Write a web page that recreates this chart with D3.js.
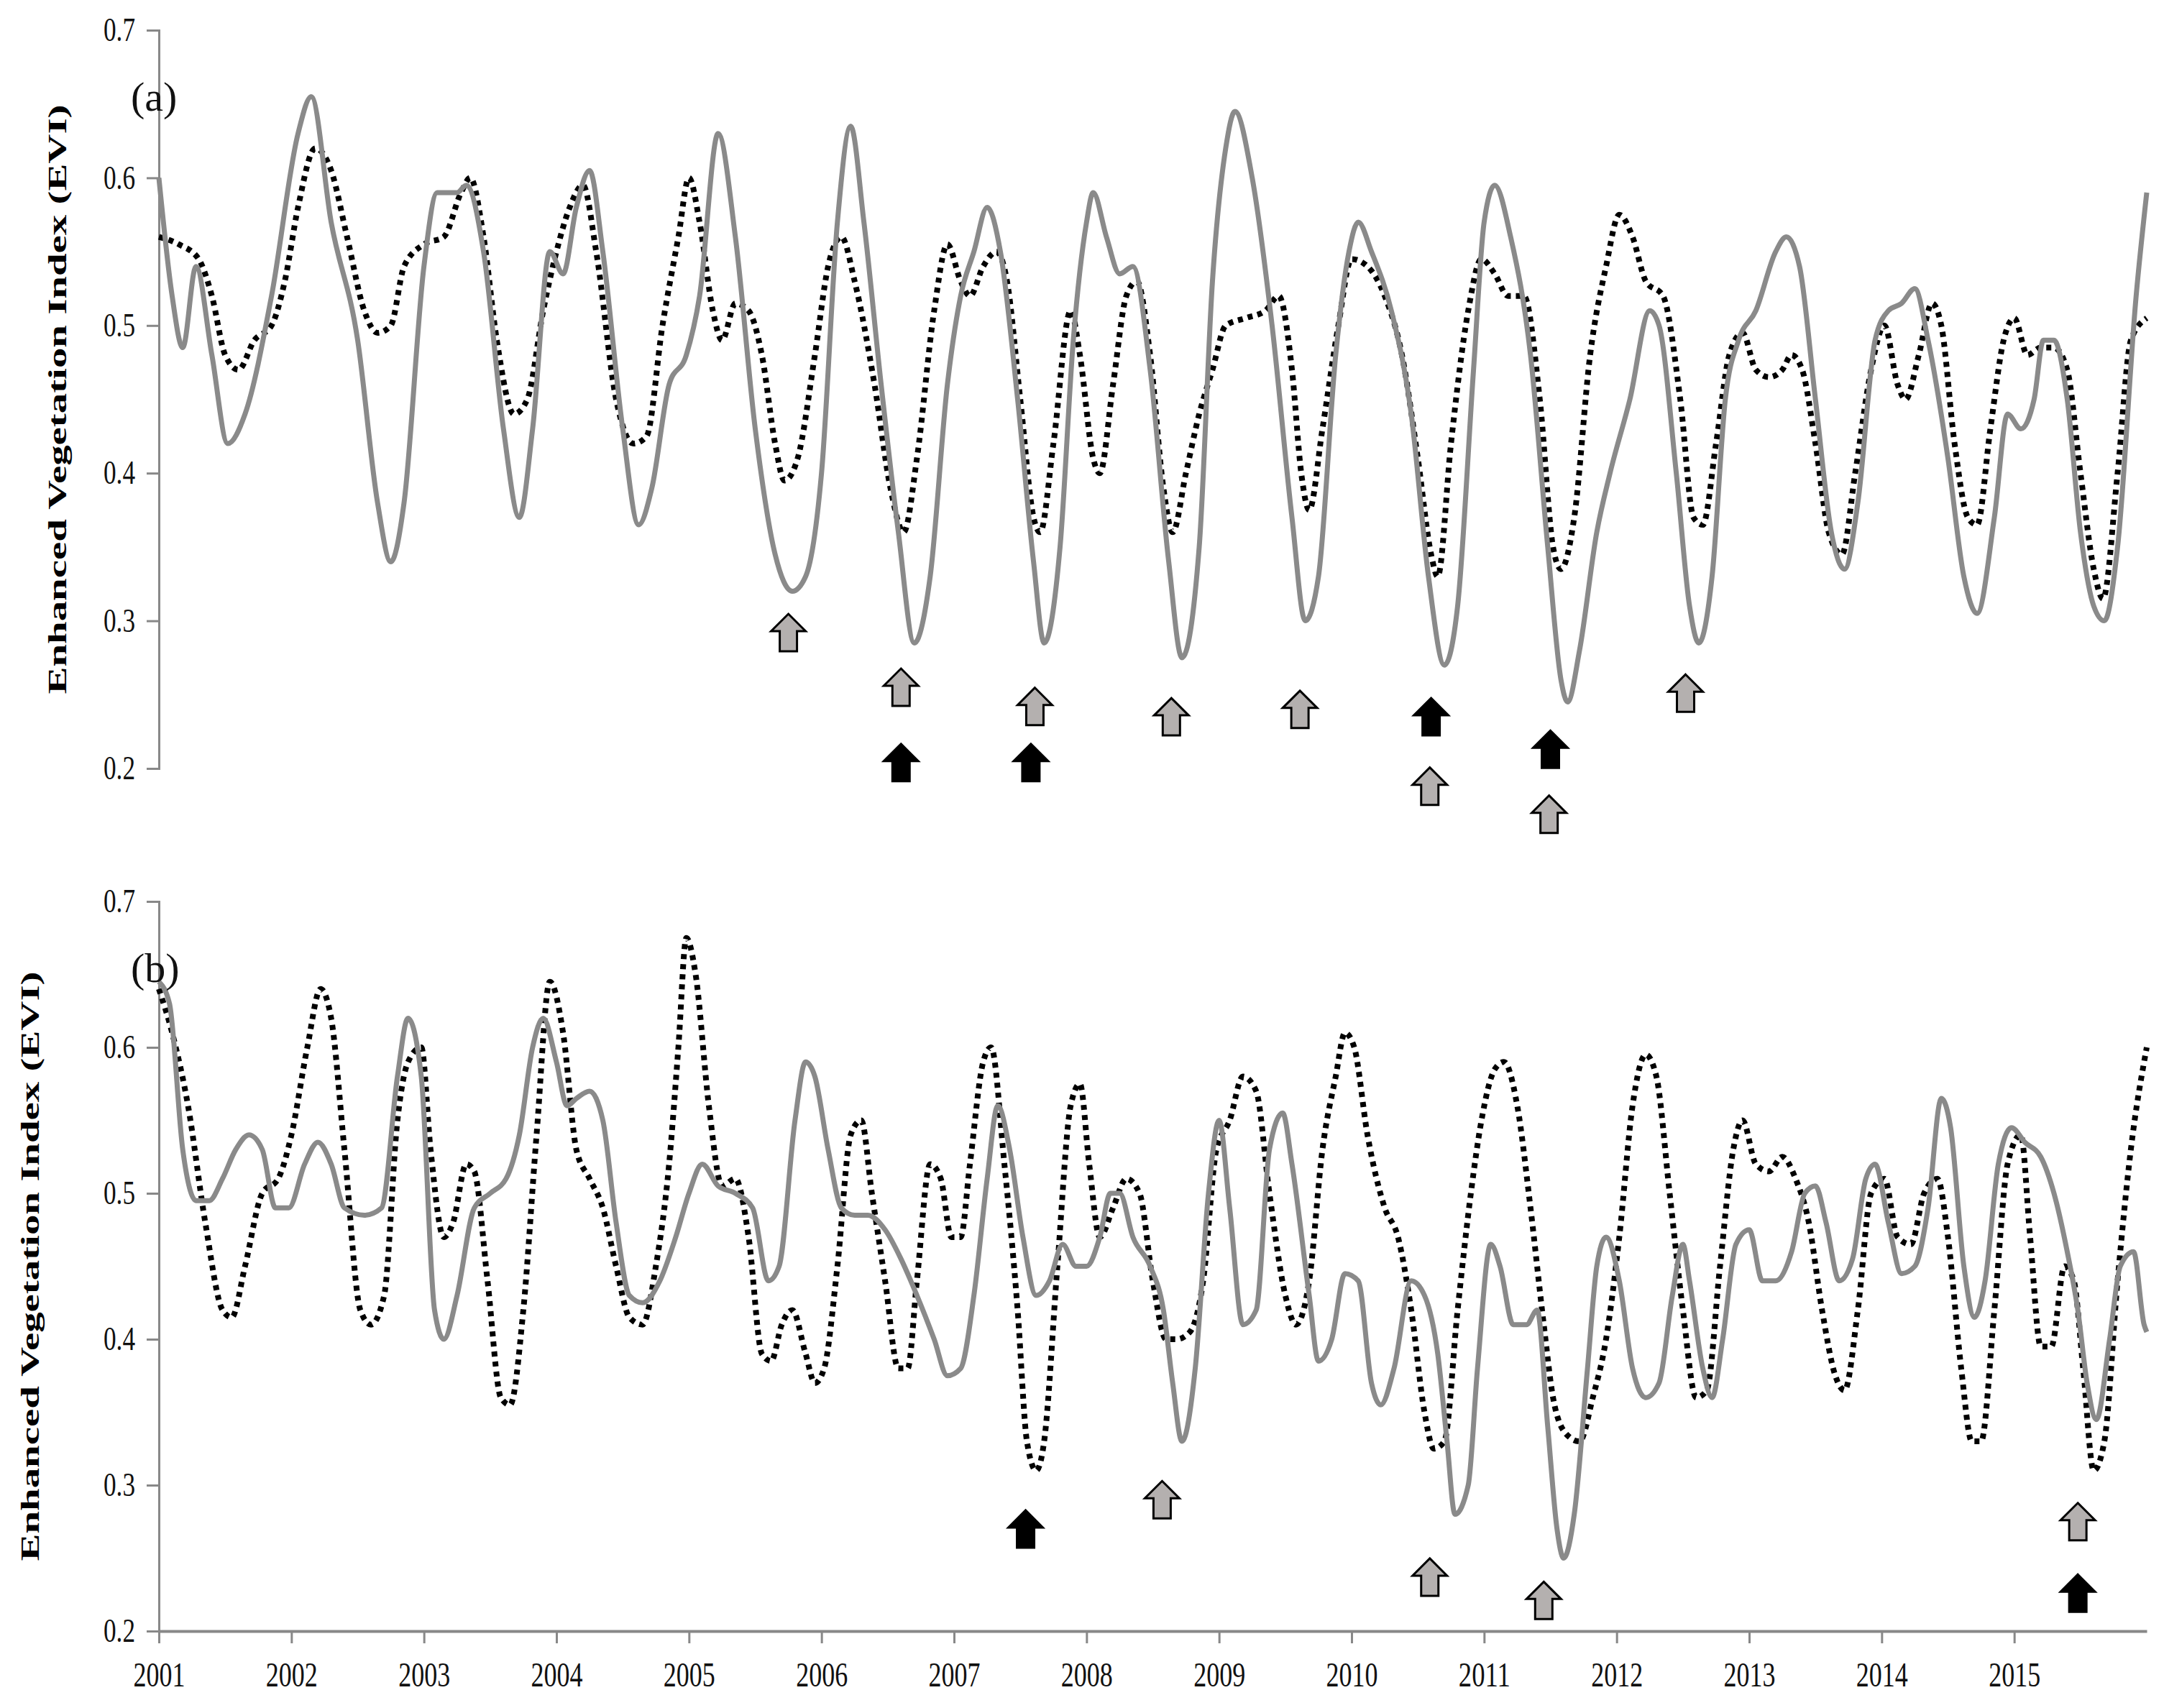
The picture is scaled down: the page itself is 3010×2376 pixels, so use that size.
<!DOCTYPE html>
<html>
<head>
<meta charset="utf-8">
<script src="https://cdn.jsdelivr.net/npm/d3@7"></script>
<style>
  body { margin: 0; background: #fff; }
</style>
</head>
<body>
<div id="container"></div>
<script>
"use strict";

// ---- data: [decimal year, EVI] ----
const aSolid = [
  [2001.00,0.60],[2001.10,0.52],[2001.18,0.485],[2001.28,0.54],[2001.40,0.48],[2001.52,0.42],[2001.65,0.44],[2001.85,0.52],
  [2002.05,0.63],[2002.15,0.655],[2002.30,0.57],[2002.50,0.49],[2002.65,0.38],[2002.75,0.34],[2002.85,0.38],
  [2003.00,0.54],[2003.10,0.59],[2003.25,0.59],[2003.32,0.595],[2003.45,0.55],[2003.60,0.43],[2003.72,0.37],[2003.82,0.43],[2003.95,0.55],
  [2004.05,0.535],[2004.15,0.58],[2004.25,0.605],[2004.35,0.55],[2004.50,0.43],[2004.62,0.365],[2004.72,0.39],[2004.85,0.46],[2004.98,0.48],
  [2005.08,0.52],[2005.22,0.63],[2005.35,0.56],[2005.50,0.43],[2005.65,0.345],[2005.78,0.32],[2005.88,0.33],
  [2006.00,0.40],[2006.12,0.57],[2006.22,0.635],[2006.32,0.57],[2006.45,0.46],[2006.58,0.36],[2006.70,0.285],[2006.82,0.33],[2006.95,0.46],
  [2007.05,0.52],[2007.15,0.55],[2007.25,0.58],[2007.35,0.55],[2007.48,0.45],[2007.60,0.34],[2007.68,0.285],[2007.80,0.35],[2007.90,0.49],
  [2008.00,0.57],[2008.05,0.59],[2008.15,0.56],[2008.25,0.535],[2008.35,0.54],[2008.48,0.47],[2008.62,0.34],[2008.72,0.275],[2008.85,0.35],[2008.95,0.53],
  [2009.05,0.62],[2009.12,0.645],[2009.25,0.60],[2009.40,0.50],[2009.55,0.37],[2009.65,0.30],[2009.75,0.33],[2009.88,0.48],[2009.98,0.55],
  [2010.05,0.57],[2010.15,0.55],[2010.30,0.51],[2010.45,0.44],[2010.58,0.33],[2010.70,0.27],[2010.80,0.31],[2010.92,0.47],
  [2011.00,0.57],[2011.08,0.595],[2011.20,0.56],[2011.35,0.48],[2011.48,0.35],[2011.58,0.26],[2011.63,0.245],[2011.72,0.28],[2011.85,0.36],[2011.95,0.40],
  [2012.10,0.45],[2012.25,0.51],[2012.32,0.50],[2012.45,0.40],[2012.55,0.31],[2012.62,0.285],[2012.72,0.33],[2012.82,0.45],[2012.92,0.49],
  [2013.05,0.51],[2013.20,0.55],[2013.28,0.56],[2013.38,0.54],[2013.50,0.45],[2013.62,0.36],[2013.72,0.335],[2013.82,0.38],[2013.95,0.49],
  [2014.05,0.51],[2014.15,0.515],[2014.25,0.525],[2014.35,0.49],[2014.50,0.41],[2014.62,0.33],[2014.72,0.305],[2014.85,0.37],[2014.95,0.44],
  [2015.05,0.43],[2015.15,0.45],[2015.22,0.49],[2015.30,0.49],[2015.40,0.45],[2015.50,0.36],[2015.60,0.31],[2015.68,0.30],[2015.78,0.35],[2015.92,0.52],[2016.00,0.59]
];

const aDotted = [
  [2001.00,0.56],[2001.15,0.555],[2001.30,0.545],[2001.40,0.52],[2001.50,0.48],[2001.60,0.47],[2001.72,0.49],[2001.85,0.50],[2001.95,0.53],
  [2002.05,0.58],[2002.18,0.62],[2002.30,0.605],[2002.42,0.56],[2002.55,0.51],[2002.65,0.495],[2002.75,0.50],[2002.85,0.54],
  [2003.00,0.555],[2003.15,0.56],[2003.28,0.59],[2003.35,0.60],[2003.45,0.56],[2003.55,0.49],[2003.68,0.44],[2003.78,0.45],[2003.90,0.51],
  [2004.00,0.55],[2004.10,0.58],[2004.20,0.595],[2004.30,0.55],[2004.45,0.45],[2004.58,0.42],[2004.68,0.425],[2004.80,0.50],[2004.92,0.56],
  [2005.00,0.60],[2005.08,0.57],[2005.18,0.51],[2005.25,0.49],[2005.35,0.515],[2005.45,0.51],[2005.55,0.48],[2005.65,0.42],[2005.72,0.395],[2005.82,0.41],[2005.95,0.48],
  [2006.05,0.54],[2006.15,0.56],[2006.25,0.53],[2006.40,0.46],[2006.52,0.39],[2006.62,0.36],[2006.72,0.41],[2006.85,0.51],[2006.95,0.555],
  [2007.05,0.53],[2007.12,0.52],[2007.22,0.54],[2007.32,0.55],[2007.40,0.53],[2007.50,0.45],[2007.60,0.37],[2007.65,0.36],[2007.75,0.42],[2007.88,0.51],[2007.95,0.48],
  [2008.05,0.41],[2008.10,0.40],[2008.20,0.46],[2008.30,0.52],[2008.38,0.53],[2008.48,0.48],[2008.58,0.39],[2008.65,0.36],[2008.75,0.40],[2008.85,0.44],[2008.95,0.47],
  [2009.05,0.50],[2009.20,0.505],[2009.35,0.51],[2009.45,0.52],[2009.55,0.47],[2009.62,0.40],[2009.68,0.375],[2009.78,0.43],[2009.90,0.50],
  [2010.00,0.545],[2010.12,0.54],[2010.25,0.52],[2010.38,0.48],[2010.50,0.41],[2010.60,0.345],[2010.65,0.33],[2010.75,0.42],[2010.88,0.51],[2010.98,0.545],
  [2011.08,0.535],[2011.18,0.52],[2011.30,0.52],[2011.42,0.45],[2011.52,0.35],[2011.58,0.335],[2011.68,0.37],[2011.80,0.48],[2011.92,0.54],
  [2012.02,0.575],[2012.12,0.56],[2012.22,0.53],[2012.35,0.52],[2012.48,0.45],[2012.58,0.37],[2012.65,0.365],[2012.75,0.42],[2012.85,0.48],[2012.95,0.495],
  [2013.05,0.47],[2013.15,0.465],[2013.25,0.47],[2013.32,0.48],[2013.40,0.47],[2013.50,0.42],[2013.60,0.36],[2013.70,0.345],[2013.80,0.40],[2013.92,0.47],
  [2014.02,0.50],[2014.12,0.46],[2014.18,0.45],[2014.28,0.48],[2014.38,0.515],[2014.45,0.50],[2014.55,0.42],[2014.65,0.37],[2014.72,0.365],[2014.82,0.43],[2014.92,0.49],
  [2015.00,0.505],[2015.10,0.48],[2015.20,0.485],[2015.30,0.485],[2015.40,0.47],[2015.50,0.40],[2015.60,0.335],[2015.67,0.315],[2015.78,0.40],[2015.88,0.49],[2016.00,0.505]
];

const bSolid = [
  [2001.00,0.645],[2001.08,0.63],[2001.18,0.53],[2001.28,0.495],[2001.38,0.495],[2001.48,0.51],[2001.58,0.53],[2001.68,0.54],[2001.78,0.53],[2001.88,0.49],[2001.98,0.49],
  [2002.10,0.52],[2002.20,0.535],[2002.30,0.52],[2002.40,0.49],[2002.55,0.485],[2002.68,0.49],[2002.80,0.58],[2002.88,0.62],[2002.98,0.58],
  [2003.08,0.42],[2003.15,0.40],[2003.25,0.43],[2003.38,0.49],[2003.50,0.50],[2003.62,0.51],[2003.72,0.54],[2003.82,0.60],[2003.90,0.62],
  [2004.00,0.59],[2004.08,0.56],[2004.15,0.565],[2004.25,0.57],[2004.35,0.55],[2004.45,0.48],[2004.55,0.43],[2004.65,0.425],[2004.78,0.44],[2004.90,0.47],
  [2005.00,0.50],[2005.10,0.52],[2005.22,0.505],[2005.35,0.50],[2005.48,0.49],[2005.60,0.44],[2005.68,0.45],[2005.80,0.55],[2005.88,0.59],[2005.95,0.58],
  [2006.05,0.53],[2006.15,0.49],[2006.25,0.485],[2006.35,0.485],[2006.48,0.475],[2006.60,0.455],[2006.72,0.43],[2006.85,0.40],[2006.95,0.375],
  [2007.05,0.38],[2007.15,0.43],[2007.25,0.51],[2007.33,0.56],[2007.42,0.53],[2007.52,0.47],[2007.62,0.43],[2007.72,0.44],[2007.82,0.465],[2007.92,0.45],
  [2008.00,0.45],[2008.10,0.47],[2008.18,0.50],[2008.25,0.50],[2008.35,0.47],[2008.48,0.45],[2008.58,0.42],[2008.65,0.37],[2008.72,0.33],[2008.82,0.38],[2008.92,0.50],
  [2009.00,0.55],[2009.08,0.49],[2009.18,0.41],[2009.28,0.42],[2009.38,0.53],[2009.48,0.555],[2009.55,0.52],[2009.68,0.43],[2009.75,0.385],[2009.85,0.40],[2009.95,0.445],
  [2010.05,0.44],[2010.15,0.37],[2010.22,0.355],[2010.32,0.38],[2010.45,0.44],[2010.55,0.43],[2010.65,0.39],[2010.72,0.33],[2010.78,0.28],[2010.88,0.30],[2010.95,0.38],
  [2011.05,0.465],[2011.12,0.45],[2011.22,0.41],[2011.32,0.41],[2011.40,0.42],[2011.48,0.34],[2011.55,0.27],[2011.60,0.25],[2011.68,0.28],[2011.78,0.38],[2011.85,0.45],[2011.92,0.47],
  [2012.02,0.44],[2012.12,0.38],[2012.22,0.36],[2012.32,0.37],[2012.42,0.43],[2012.50,0.465],[2012.55,0.44],[2012.65,0.38],[2012.72,0.36],[2012.80,0.40],[2012.90,0.465],
  [2013.00,0.475],[2013.10,0.44],[2013.20,0.44],[2013.32,0.46],[2013.42,0.50],[2013.50,0.505],[2013.58,0.48],[2013.68,0.44],[2013.78,0.455],[2013.88,0.51],[2013.95,0.52],
  [2014.05,0.48],[2014.15,0.445],[2014.25,0.45],[2014.35,0.49],[2014.45,0.565],[2014.52,0.545],[2014.62,0.45],[2014.70,0.415],[2014.78,0.44],[2014.88,0.52],[2014.98,0.545],
  [2015.08,0.535],[2015.20,0.525],[2015.30,0.50],[2015.40,0.46],[2015.48,0.42],[2015.55,0.37],[2015.62,0.345],[2015.72,0.40],[2015.80,0.45],[2015.90,0.46],[2015.98,0.41],[2016.00,0.405]
];

const bDotted = [
  [2001.00,0.64],[2001.10,0.61],[2001.22,0.56],[2001.35,0.48],[2001.48,0.42],[2001.55,0.415],[2001.65,0.45],[2001.78,0.50],[2001.90,0.51],
  [2002.00,0.54],[2002.12,0.60],[2002.22,0.64],[2002.30,0.62],[2002.40,0.53],[2002.52,0.42],[2002.60,0.41],[2002.70,0.43],[2002.80,0.55],[2002.88,0.59],[2002.98,0.60],
  [2003.05,0.53],[2003.15,0.47],[2003.22,0.48],[2003.32,0.52],[2003.38,0.515],[2003.48,0.44],[2003.58,0.36],[2003.65,0.355],[2003.75,0.42],[2003.85,0.54],[2003.95,0.645],
  [2004.05,0.61],[2004.15,0.53],[2004.25,0.51],[2004.35,0.49],[2004.45,0.45],[2004.55,0.415],[2004.65,0.41],[2004.75,0.45],[2004.85,0.52],[2004.92,0.60],[2004.98,0.675],
  [2005.05,0.65],[2005.15,0.56],[2005.25,0.505],[2005.35,0.51],[2005.45,0.47],[2005.55,0.39],[2005.62,0.385],[2005.70,0.41],[2005.78,0.42],[2005.88,0.39],[2005.95,0.37],
  [2006.02,0.38],[2006.12,0.45],[2006.22,0.54],[2006.30,0.55],[2006.38,0.50],[2006.48,0.44],[2006.58,0.38],[2006.65,0.38],[2006.72,0.44],[2006.82,0.52],[2006.90,0.51],[2006.98,0.47],
  [2007.05,0.47],[2007.12,0.52],[2007.22,0.59],[2007.28,0.60],[2007.38,0.52],[2007.48,0.42],[2007.55,0.33],[2007.62,0.31],[2007.68,0.33],[2007.78,0.45],[2007.88,0.56],[2007.95,0.575],
  [2008.02,0.52],[2008.10,0.47],[2008.20,0.49],[2008.30,0.51],[2008.40,0.50],[2008.50,0.44],[2008.60,0.40],[2008.68,0.40],[2008.78,0.405],[2008.88,0.44],[2008.98,0.53],
  [2009.08,0.55],[2009.18,0.58],[2009.28,0.57],[2009.38,0.50],[2009.50,0.43],[2009.58,0.41],[2009.68,0.44],[2009.78,0.53],[2009.88,0.58],[2009.95,0.61],
  [2010.02,0.60],[2010.12,0.54],[2010.25,0.49],[2010.35,0.47],[2010.45,0.42],[2010.55,0.35],[2010.62,0.325],[2010.70,0.33],[2010.80,0.42],[2010.90,0.50],[2010.98,0.55],
  [2011.08,0.585],[2011.15,0.59],[2011.25,0.56],[2011.35,0.49],[2011.45,0.41],[2011.52,0.36],[2011.62,0.335],[2011.72,0.33],[2011.82,0.36],[2011.92,0.40],
  [2012.02,0.47],[2012.12,0.56],[2012.22,0.595],[2012.30,0.58],[2012.40,0.50],[2012.50,0.42],[2012.60,0.36],[2012.68,0.365],[2012.78,0.45],[2012.88,0.53],[2012.95,0.55],
  [2013.05,0.52],[2013.15,0.515],[2013.25,0.525],[2013.35,0.51],[2013.45,0.48],[2013.55,0.42],[2013.65,0.375],[2013.72,0.365],[2013.82,0.42],[2013.92,0.50],
  [2014.02,0.51],[2014.12,0.47],[2014.22,0.465],[2014.32,0.50],[2014.42,0.51],[2014.50,0.47],[2014.60,0.38],[2014.68,0.33],[2014.75,0.33],[2014.85,0.42],[2014.95,0.52],
  [2015.05,0.54],[2015.12,0.47],[2015.20,0.395],[2015.28,0.395],[2015.38,0.45],[2015.45,0.44],[2015.52,0.38],[2015.60,0.31],[2015.68,0.33],[2015.78,0.44],[2015.88,0.53],[2016.00,0.60]
];

// arrow markers: [year, EVI at arrow centre, colour]
const aArrows = [
  [2005.75,0.292,"gray"],[2006.60,0.255,"gray"],[2006.60,0.204,"black"],[2007.61,0.242,"gray"],[2007.58,0.204,"black"],
  [2008.64,0.235,"gray"],[2009.61,0.240,"gray"],[2010.60,0.235,"black"],[2010.59,0.188,"gray"],
  [2011.50,0.213,"black"],[2011.49,0.169,"gray"],[2012.52,0.251,"gray"]
];
const bArrows = [
  [2007.54,0.270,"black"],[2008.57,0.290,"gray"],[2010.59,0.237,"gray"],[2011.45,0.221,"gray"],
  [2015.48,0.275,"gray"],[2015.48,0.226,"black"]
];

const yTicks = [0.2, 0.3, 0.4, 0.5, 0.6, 0.7];
const yearTicks = d3.range(2001, 2016);
const yTitle = "Enhanced Vegetation Index (EVI)";

// ---- layout ----
const W = 3010, H = 2376;
const left = 221, right = 2986;
const serif = "'Liberation Serif', 'DejaVu Serif', serif";

const svg = d3.select("#container").append("svg").attr("width", W).attr("height", H);

const xScale = d3.scaleLinear().domain([2001, 2016]).range([left, right]);

const drawPanel = (cfg) => {
  const yScale = d3.scaleLinear().domain([0.2, 0.7]).range([cfg.bottom, cfg.top]);
  const g = svg.append("g");

  const yAxis = d3.axisLeft(yScale).tickValues(yTicks).tickFormat(d3.format(".1f")).tickSize(17).tickPadding(16);
  const ya = g.append("g").attr("transform", `translate(${left},0)`).call(yAxis);
  ya.select(".domain").attr("stroke", "#888").attr("stroke-width", 3);
  ya.selectAll(".tick line").attr("stroke", "#888").attr("stroke-width", 3);
  ya.selectAll(".tick text").style("font-family", serif).style("font-size", "46px").attr("fill", "#111")
    .attr("textLength", 44).attr("lengthAdjust", "spacingAndGlyphs");

  if (cfg.xAxis) {
    const xAxis = d3.axisBottom(xScale).tickValues(yearTicks).tickFormat(d3.format("d")).tickSize(17).tickSizeOuter(0).tickPadding(26);
    const xa = g.append("g").attr("transform", `translate(0,${cfg.bottom})`).call(xAxis);
    xa.select(".domain").attr("stroke", "#888").attr("stroke-width", 4);
    xa.selectAll(".tick line").attr("stroke", "#888").attr("stroke-width", 3);
    xa.selectAll(".tick text").style("font-family", serif).style("font-size", "48px").attr("fill", "#111")
      .attr("textLength", 72).attr("lengthAdjust", "spacingAndGlyphs");
  }

  const line = d3.line().x((d) => xScale(d[0])).y((d) => yScale(d[1])).curve(d3.curveMonotoneX);

  g.append("path").datum(cfg.dotted).attr("d", line).attr("fill", "none")
    .attr("stroke", "#000").attr("stroke-width", 8).attr("stroke-dasharray", "7 7");
  g.append("path").datum(cfg.solid).attr("d", line).attr("fill", "none")
    .attr("stroke", "#8a8a8a").attr("stroke-width", 7).attr("stroke-linejoin", "round");

  // block arrows pointing up
  const arrowPath = "M0,-26 L24,-2 L12,-2 L12,26 L-12,26 L-12,-2 L-24,-2 Z";
  g.selectAll(".arrow").data(cfg.arrows).enter().append("path")
    .attr("class", "arrow")
    .attr("d", arrowPath)
    .attr("transform", (d) => `translate(${xScale(d[0])},${yScale(d[1])})`)
    .attr("fill", (d) => (d[2] === "black" ? "#000" : "#b4b0af"))
    .attr("stroke", "#000").attr("stroke-width", 3).attr("stroke-linejoin", "miter");

  g.append("text").attr("x", 182).attr("y", cfg.top + 112).text(cfg.label)
    .style("font-family", serif).style("font-size", "58px").attr("fill", "#111");

  g.append("text")
    .attr("transform", `translate(${cfg.titleX},${(cfg.top + cfg.bottom) / 2}) rotate(-90)`)
    .attr("text-anchor", "middle")
    .attr("textLength", 820).attr("lengthAdjust", "spacingAndGlyphs")
    .style("font-family", serif).style("font-size", "36px").style("font-weight", "bold")
    .text(yTitle);
};

drawPanel({ top: 42, bottom: 1069, solid: aSolid, dotted: aDotted, arrows: aArrows, label: "(a)", titleX: 92, xAxis: false });
drawPanel({ top: 1254, bottom: 2269, solid: bSolid, dotted: bDotted, arrows: bArrows, label: "(b)", titleX: 54, xAxis: true });
</script>
</body>
</html>
